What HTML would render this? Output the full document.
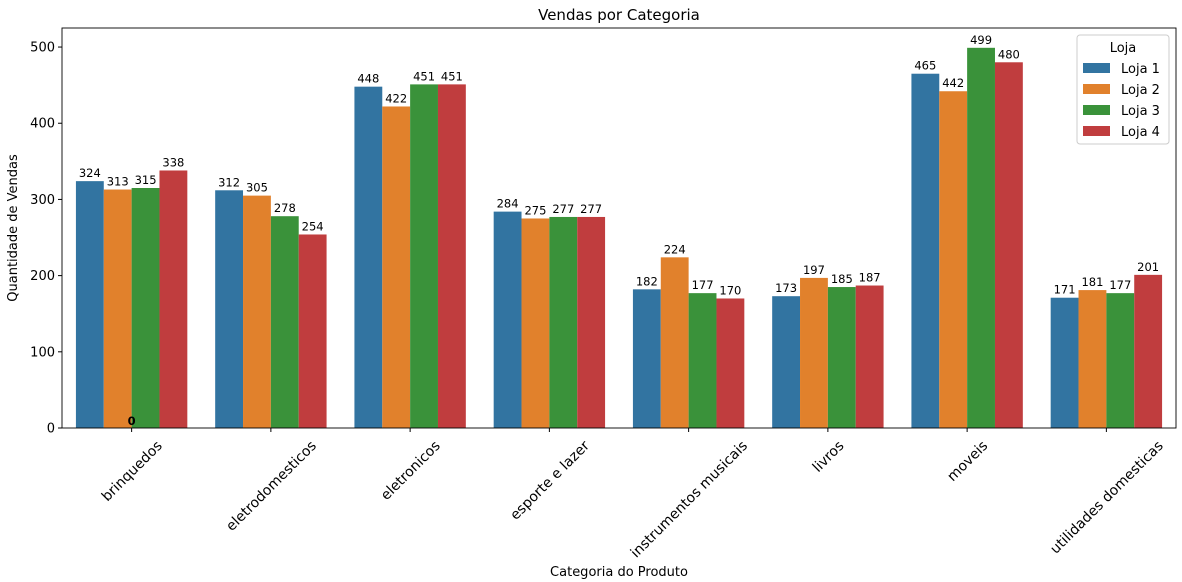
<!DOCTYPE html>
<html><head><meta charset="utf-8"><style>
html,body{margin:0;padding:0;background:#fff;}
svg{display:block;font-family:"DejaVu Sans","Liberation Sans",sans-serif;}
</style></head><body>
<svg id="chart" width="1182" height="582" viewBox="0 0 1182 582" xmlns="http://www.w3.org/2000/svg">
<text x="619" y="20" text-anchor="middle" font-size="15">Vendas por Categoria</text>
<g id="plot"></g>
<text x="619" y="576" text-anchor="middle" font-size="13">Categoria do Produto</text>
<text transform="translate(17,228) rotate(-90)" text-anchor="middle" font-size="13">Quantidade de Vendas</text>
</svg>
<script>
const categories=["brinquedos","eletrodomesticos","eletronicos","esporte e lazer","instrumentos musicais","livros","moveis","utilidades domesticas"];
const seriesNames=["Loja 1","Loja 2","Loja 3","Loja 4"];
const loja1=[324,312,448,284,182,173,465,171];
const loja2=[313,305,422,275,224,197,442,181];
const loja3=[315,278,451,277,177,185,499,177];
const loja4=[338,254,451,277,170,187,480,201];
const yTicks=[0,100,200,300,400,500];
const colors=["#3274a1","#e1812c","#3a923a","#c03d3e"];
const series=[loja1,loja2,loja3,loja4];
const NS="http://www.w3.org/2000/svg";
const L=62,R=1176,T=28,B=428,yMax=525;
const y=v=>B-(v/yMax)*(B-T);
const band=(R-L)/categories.length;
const xc=i=>L+band*(i+0.5);
const bw=band*0.8/series.length;
const g=document.getElementById('plot');
function mk(t,a,p){const e=document.createElementNS(NS,t);for(const k in a)e.setAttribute(k,a[k]);(p||g).appendChild(e);return e;}
series.forEach((s,si)=>{s.forEach((v,ci)=>{
 const x=xc(ci)-band*0.4+si*bw;
 const r=mk('rect',{x:x,y:y(v),width:bw,height:B-y(v),fill:colors[si]});
 
 
 const t=mk('text',{x:x+bw/2,y:y(v)-4,'text-anchor':'middle','font-size':'11.5'});
 
 
 t.textContent=v;
});});
const z=mk('text',{x:xc(0),y:B-3,'text-anchor':'middle','font-size':'11.5','font-weight':'bold'});


z.textContent='0';
const fr=mk('rect',{x:L,y:T,width:R-L,height:B-T,fill:'none',stroke:'#000','stroke-width':0.9});


yTicks.forEach(v=>{
 const l=mk('line',{x1:L-4,x2:L,y1:y(v),y2:y(v),stroke:'#000'});
 
 
 const t=mk('text',{x:L-7,y:y(v)+4.5,'text-anchor':'end','font-size':'13'});
 
 
 t.textContent=v;
});
categories.forEach((c,i)=>{
 const l=mk('line',{x1:xc(i),x2:xc(i),y1:B,y2:B+4,stroke:'#000'});
 
 
 const t=mk('text',{'text-anchor':'middle','font-size':'14'});
 
 
 t.textContent=c;
 const w=t.getComputedTextLength();
 const cy=B+10+(w*0.707+14*0.707)/2;
 t.setAttribute('transform','translate('+xc(i)+','+cy+') rotate(-45) translate(0,5)');
});
const lg=mk('g',{});


mk('rect',{x:1077,y:35,width:92,height:109,rx:3,fill:'#fff',stroke:'#ccc'},lg);
const lt=mk('text',{x:1123,y:52,'text-anchor':'middle','font-size':'13'},lg);


lt.textContent='Loja';
seriesNames.forEach((n,i)=>{
 const e=mk('g',{},lg);
 
 
 mk('rect',{x:1083,y:63+i*21,width:27,height:10,fill:colors[i]},e);
 const t=mk('text',{x:1121,y:73+i*21,'font-size':'13'},e);
 t.textContent=n;
});
</script>
</body></html>
